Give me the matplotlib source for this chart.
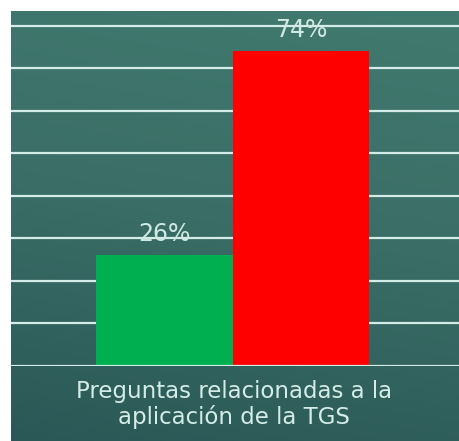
import numpy as np
import matplotlib
matplotlib.use("Agg")
import matplotlib.pyplot as plt
from matplotlib.colors import LinearSegmentedColormap

# respuestas (fraccion del total)
series_names = ["Si", "No"]
values = [0.26, 0.74]
value_labels = ["26%", "74%"]
bar_colors = ["#00b050", "#ff0000"]
grid_ticks = [0.1, 0.2, 0.3, 0.4, 0.5, 0.6, 0.7, 0.8]
caption = ["Preguntas relacionadas a la", "aplicación de la TGS"]

W, H = 459, 441
fig = plt.figure(figsize=(W / 100, H / 100), dpi=100)
fig.patch.set_facecolor("white")

# fondo degradado verde azulado
bg = fig.add_axes([11 / W, 0, (W - 11) / W, (H - 11) / H])
bg.set_axis_off()
cmap = LinearSegmentedColormap.from_list("fondo", ["#2a5856", "#3a6d66", "#417a6f"])
yy = np.linspace(0, 1, 256).reshape(-1, 1)
xx = np.linspace(0, 1, 64).reshape(1, -1)
grad = yy * 0.85 + xx * 0.15
bg.imshow(grad, cmap=cmap, aspect="auto", origin="lower", extent=[0, 1, 0, 1])

ax = fig.add_axes([11 / W, 75 / H, (W - 11) / W, (366 - 11) / H])
ax.patch.set_alpha(0)
for s in ax.spines.values():
    s.set_visible(False)
ax.set_xticks([])
ax.set_yticks([])

px_per_unit = (366 - 25.7) / 0.8
ax.set_ylim(0, (366 - 11) / px_per_unit)
ax.set_xlim(-0.5, 0.5)

line_col = "#d3ece7"
for t in grid_ticks:
    ax.axhline(t, color=line_col, lw=1.6, zorder=1)
ax.axhline(0, color=line_col, lw=1.6, zorder=3)

width = 0.305
xpos = [-0.005 - width / 2, -0.005 + width / 2]
ax.bar(xpos, values, width=width, color=bar_colors, zorder=2)

for x, v, lab in zip(xpos, values, value_labels):
    ax.text(x, v + 0.05, lab, ha="center", va="center", fontsize=17,
            color="#cfe9e3", zorder=4)

fig.text(234 / W, (H - 398) / H, caption[0], ha="center", va="baseline",
         fontsize=16.5, color="#d5ede8")
fig.text(234 / W, (H - 424) / H, caption[1], ha="center", va="baseline",
         fontsize=16.5, color="#d5ede8")

fig.savefig("out.png", dpi=100)
